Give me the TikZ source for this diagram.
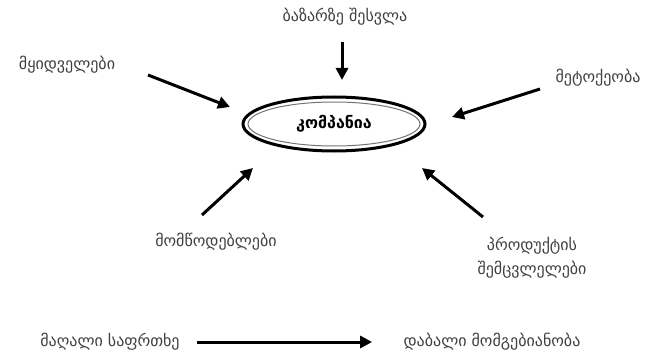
\documentclass[tikz,border=0pt]{standalone}
\usepackage{fontspec}
\setmainfont{DejaVu Sans}
\usetikzlibrary{arrows.meta,shapes.geometric}

\begin{document}
\begin{tikzpicture}[x=1pt, y=-1pt, font=\fontsize{16}{24}\selectfont,
  lbl/.style={text=black!75, align=center},
  force/.style={line width=3pt, -{Triangle[length=12pt, width=12pt]}}]
  \useasboundingbox (0,0) rectangle (659,353);

  % company in the middle
  \node[ellipse, draw=black, line width=3pt, minimum width=182pt, minimum height=54pt] (comp) at (334,124) {};
  \node[ellipse, draw=black!55, line width=1pt, minimum width=172pt, minimum height=44pt, font=\fontsize{16}{18}\selectfont\bfseries] (compin) at (comp) {კომპანია};

  % the five forces
  \node[lbl] (entry) at (345,17) {ბაზარზე შესვლა};
  \node[lbl] (buyers) at (67,65) {მყიდველები};
  \node[lbl] (rivalry) at (598,78) {მეტოქეობა};
  \node[lbl] (suppliers) at (216,242) {მომწოდებლები};
  \node[lbl] (subst) at (532,258) {პროდუქტის\\შემცვლელები};

  \coordinate (entryA) at (342,42);   \coordinate (entryB) at (342,80);
  \coordinate (buyA) at (148,75);     \coordinate (buyB) at (230,107);
  \coordinate (rivA) at (540,89);     \coordinate (rivB) at (452,117);
  \coordinate (supA) at (202,215);    \coordinate (supB) at (253,168);
  \coordinate (subA) at (483,217);    \coordinate (subB) at (422,168);

  \draw[force] (entryA) -- (entryB);
  \draw[force] (buyA) -- (buyB);
  \draw[force] (rivA) -- (rivB);
  \draw[force] (supA) -- (supB);
  \draw[force] (subA) -- (subB);

  % bottom line
  \node[lbl] (high) at (110,342) {მაღალი საფრთხე};
  \node[lbl] (low) at (492,342) {დაბალი მომგებიანობა};
  \draw[force] ([xshift=14pt]high.east) -- ([xshift=-28pt]low.west);
\end{tikzpicture}
\end{document}
